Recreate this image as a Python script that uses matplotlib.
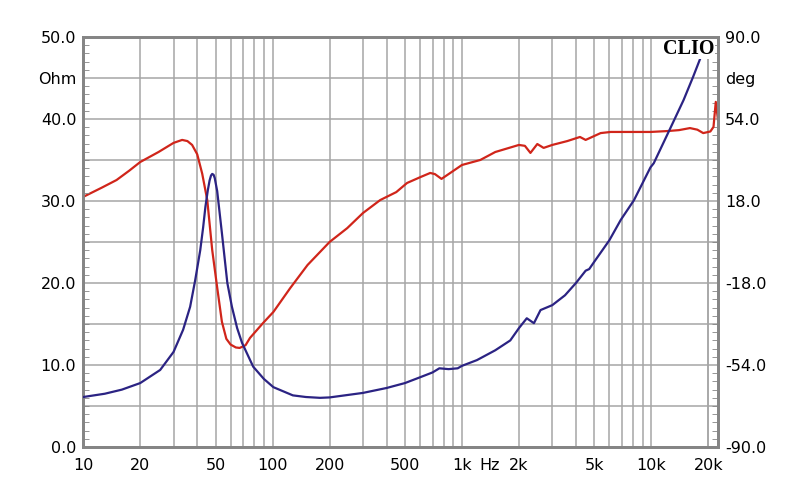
import matplotlib.pyplot as plt
from matplotlib.ticker import FixedLocator, NullFormatter

# ======= data =======
# impedance magnitude (blue, left axis, Ohm)
imp_freq = [10, 13, 16, 20, 25.5, 30, 33.7, 36.7, 39, 41.5, 43, 44.2, 45.5, 46.5, 47.3, 48,
            48.8, 49.5, 51, 54, 57.7, 61, 65, 69, 79, 90, 101, 128, 150, 178, 200, 300,
            400, 500, 600, 700, 760, 850, 950, 1000, 1200, 1500, 1800, 2000, 2200,
            2400, 2600, 3000, 3500, 4000, 4500, 4700, 5000, 6000, 6900, 8100, 9900,
            10300, 12500, 14800, 16600, 18800]
imp_ohm = [6.1, 6.5, 7.0, 7.8, 9.4, 11.6, 14.3, 17.1, 20.3, 24.0, 26.8, 29.3, 31.3, 32.5, 33.1, 33.3,
           33.2, 32.8, 31.2, 26.1, 20.0, 17.1, 14.5, 12.7, 9.8, 8.3, 7.3, 6.3, 6.1, 6.0, 6.05, 6.6,
           7.2, 7.8, 8.5, 9.1, 9.6, 9.5, 9.6, 9.9, 10.6, 11.8, 13.0, 14.5, 15.7,
           15.1, 16.7, 17.3, 18.5, 20.0, 21.5, 21.7, 22.6, 25.2, 27.7, 30.1, 34.1,
           34.6, 38.7, 42.3, 45.1, 48.3]

# impedance phase (red, right axis, deg)
ph_freq = [10, 12.5, 15, 17.5, 20, 25, 30, 33.3, 35.5, 37.6, 40, 42.5, 45.2, 48, 51, 54,
           57, 60, 64, 67, 72, 76, 89, 101, 124, 153, 200, 248, 300, 370, 450,
           513, 604, 680, 720, 780, 850, 1000, 1250, 1500, 2000, 2150, 2300, 2500, 2700,
           3000, 3600, 4200, 4500, 5400, 6100, 8000, 9900, 12200, 14000, 16000, 17500,
           18800, 20500, 21300, 21900, 22500]
ph_deg = [19.8, 23.8, 27.2, 31.3, 35.1, 39.5, 43.5, 44.8, 44.3, 42.6, 38.5, 30.0, 18.4, -3.5,
          -20.0, -35.0, -42.5, -45.0, -46.3, -46.5, -45.3, -42.1, -35.6, -30.7, -20.2,
          -10.1, 0.0, 6.1, 12.7, 18.4, 21.9, 25.9, 28.5, 30.3, 29.8, 27.7, 29.8,
          33.8, 36.0, 39.5, 42.6, 42.2, 39.1, 43.0, 41.3, 42.6, 44.3, 46.1, 44.8, 47.8,
          48.3, 48.3, 48.3, 48.7, 49.1, 50.0, 49.3, 47.8, 48.5, 50.5, 61.5, 53.6]

x_ticks = [10, 20, 50, 100, 200, 500, 1000, 2000, 5000, 10000, 20000]
x_labels = ["10", "20", "50", "100", "200", "500", "1k", "2k", "5k", "10k", "20k"]
grid_freqs = [m * 10 ** d for d in range(1, 5) for m in range(1, 10)] + [20000]

ohm_ticks = [0, 10, 20, 30, 40, 45, 50]
ohm_labels = ["0.0", "10.0", "20.0", "30.0", "40.0", "Ohm", "50.0"]
deg_ticks = [-90, -54, -18, 18, 54, 72, 90]
deg_labels = ["-90.0", "-54.0", "-18.0", "18.0", "54.0", "deg", "90.0"]

plt.rcParams['font.family'] = ['DejaVu Sans']

fig = plt.figure(figsize=(8, 5.04), dpi=100)
ax = fig.add_axes([0.104, 0.113, 0.7935, 0.8137])   # phase axis (drawn below)
ax2 = ax.twinx()                                      # impedance axis (on top)

grid_col = '#a6a6a6'
frame_col = '#858585'

ax.set_xscale('log')
ax.set_xlim(10, 22500)
ax.set_ylim(-90, 90)
ax2.set_ylim(0, 50)

# grid
for f in grid_freqs:
    ax.axvline(f, color=grid_col, lw=1.1, zorder=0)
for d in range(-90, 91, 18):
    ax.axhline(d, color=grid_col, lw=1.1, zorder=0)

ax.plot(ph_freq, ph_deg, color='#d0251a', lw=1.6, zorder=3)
ax2.plot(imp_freq, imp_ohm, color='#2b2383', lw=1.6, zorder=3)

# x axis
ax.xaxis.set_major_locator(FixedLocator(x_ticks))
ax.set_xticklabels(x_labels)
ax.xaxis.set_minor_formatter(NullFormatter())
ax.tick_params(axis='x', which='both', length=0, pad=8, labelsize=11.5)
ax.annotate("Hz", xy=(1400, 0), xycoords=ax.get_xaxis_transform(),
            xytext=(0, -8), textcoords='offset points',
            ha='center', va='top', fontsize=11.5)

# phase axis on the right
ax.yaxis.tick_right()
ax.set_yticks(deg_ticks)
ax.set_yticklabels(deg_labels)
ax.yaxis.set_minor_locator(FixedLocator([v * 3.6 - 90 for v in range(51)]))
ax.tick_params(axis='y', which='major', length=0, pad=5, labelsize=11.5)
ax.tick_params(axis='y', which='minor', direction='in', length=4, color=frame_col)

# impedance axis on the left
ax2.yaxis.tick_left()
ax2.set_yticks(ohm_ticks)
ax2.set_yticklabels(ohm_labels)
ax2.yaxis.set_minor_locator(FixedLocator(list(range(51))))
ax2.tick_params(axis='y', which='major', length=0, pad=5, labelsize=11.5)
ax2.tick_params(axis='y', which='minor', direction='in', length=4, color=frame_col)

for a in (ax, ax2):
    for s in a.spines.values():
        s.set_color(frame_col)
        s.set_linewidth(2)

ax2.text(0.995, 0.996, "CLIO", transform=ax2.transAxes, ha='right', va='top',
         fontsize=14.5, fontweight='bold', family=['Liberation Serif'],
         bbox=dict(facecolor='white', edgecolor='none', pad=0.0), zorder=5)

fig.savefig("out.png", dpi=100)
plt.close(fig)
